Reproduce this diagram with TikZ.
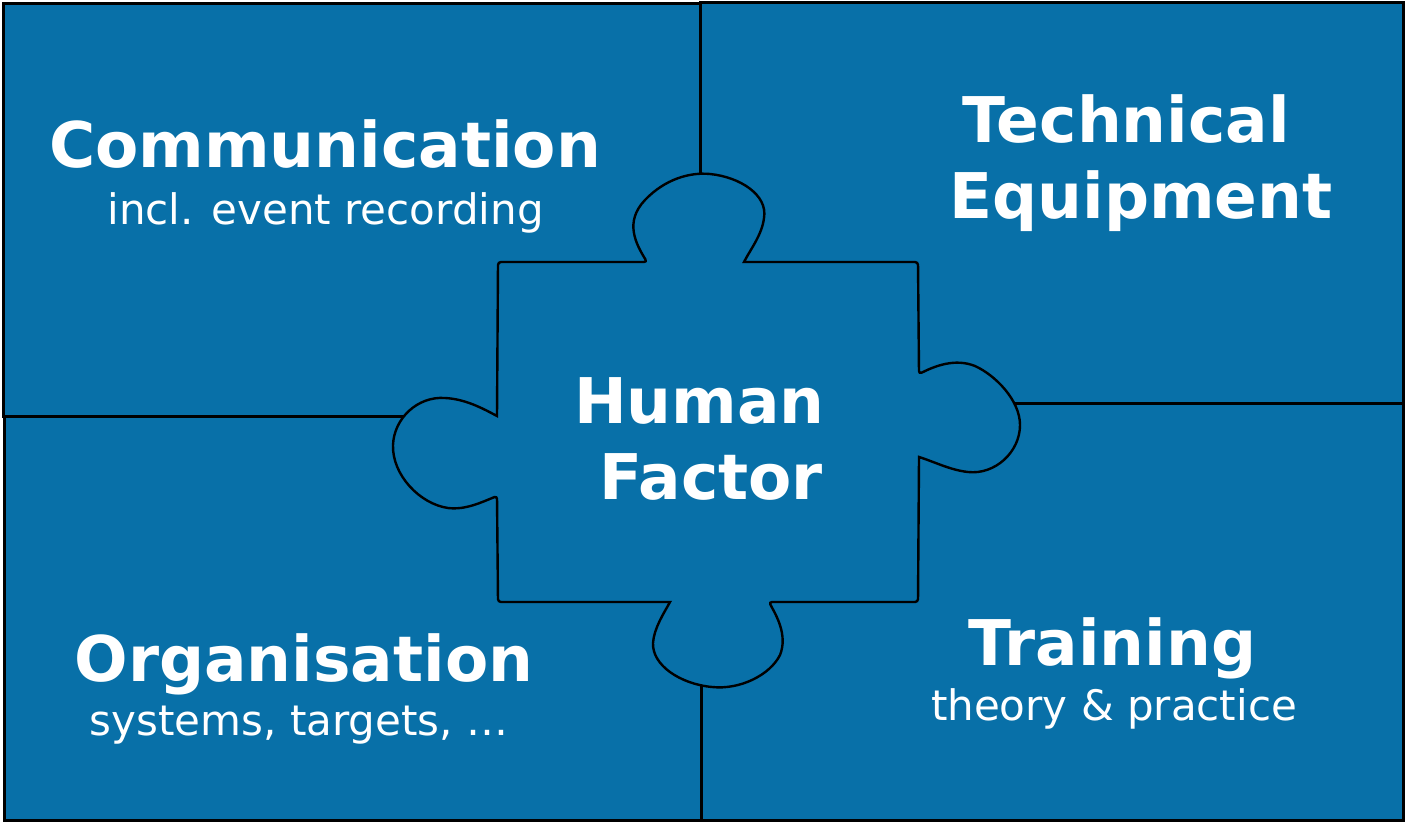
\documentclass[tikz,border=0pt]{standalone}
\usepackage{fontspec}
\setmainfont{DejaVu Sans}
\usetikzlibrary{shapes}
\definecolor{tileblue}{RGB}{8,112,168}
\tikzstyle{tile} = [draw, fill=tileblue, rectangle, line width=3pt,
    inner sep=0pt]
\tikzstyle{headline} = [text=white, anchor=base, inner sep=0pt,
    font=\bfseries\fontsize{63}{63}\selectfont]
\tikzstyle{subline} = [text=white, anchor=base, inner sep=0pt,
    font=\fontsize{42}{42}\selectfont]

\begin{document}
\begin{tikzpicture}[x=1pt,y=-1pt]
\useasboundingbox (0,0) rectangle (1405,822);

% the four tiles
\node[tile, minimum width=697pt, minimum height=413pt] (comm) at (351.5,209.5) {};
\node[tile, minimum width=703pt, minimum height=401pt] (tech) at (1051.5,202.5) {};
\node[tile, minimum width=697pt, minimum height=404pt] (orga) at (352.5,618) {};
\node[tile, minimum width=702pt, minimum height=417pt] (train) at (1052,611.5) {};

% puzzle piece in the middle
\draw[fill=tileblue, line width=2.4pt, rounded corners=3pt] (498,262) -- (647,262)
  [sharp corners] .. controls (636,244) and (624,222) .. (645,200)
  .. controls (665,179) and (690,172) .. (710,174)
  .. controls (740,177) and (768,195) .. (764,218)
  .. controls (762,235) and (750,250) .. (744,262)
  [rounded corners=3pt] -- (918,262) -- (919,374)
  [sharp corners] .. controls (935,366) and (955,358) .. (975,366)
  .. controls (995,375) and (1020,400) .. (1020,425)
  .. controls (1020,452) and (995,475) .. (968,472)
  .. controls (950,470) and (935,462) .. (919,457)
  [rounded corners=3pt] -- (918,602) -- (769,602)
  [sharp corners] .. controls (776,615) and (788,635) .. (780,655)
  .. controls (770,675) and (740,690) .. (712,687)
  .. controls (680,684) and (652,665) .. (653,643)
  .. controls (654,628) and (664,613) .. (670,602)
  [rounded corners=3pt] -- (498,602) -- (497,496)
  [sharp corners] .. controls (480,503) and (465,510) .. (448,508)
  .. controls (420,504) and (392,475) .. (393,445)
  .. controls (394,418) and (418,396) .. (445,398)
  .. controls (465,399) and (482,408) .. (497,416)
  [rounded corners=3pt] -- cycle;

% labels
\node[headline] (commtitle) at (325,167) {Communication};
\node[subline] (commsub) at (325.5,224) {incl. event recording};
\node[headline] (techtitle) at (1126,142) {Technical};
\node[headline] (techtitle2) at (1141,218) {Equipment};
\node[headline] (human) at (699.5,423) {Human};
\node[headline] (factor) at (711,499) {Factor};
\node[headline] (orgatitle) at (304,681) {Organisation};
\node[subline] (orgasub) at (299,735) {systems, targets, …};
\node[headline] (traintitle) at (1112.5,665) {Training};
\node[subline] (trainsub) at (1114,720) {theory \& practice};
\end{tikzpicture}
\end{document}
